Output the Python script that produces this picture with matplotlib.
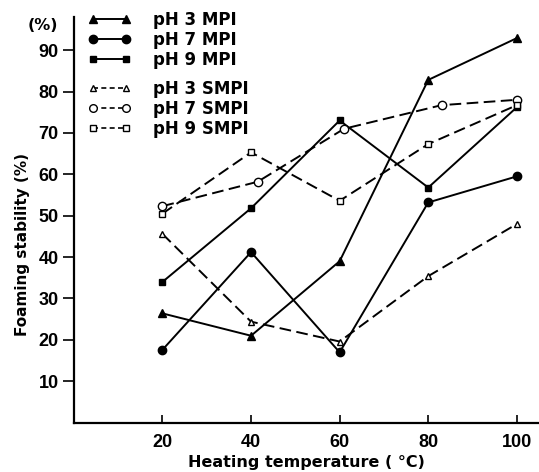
import matplotlib.pyplot as plt
from matplotlib.lines import Line2D

plt.rcParams['font.family'] = ['DejaVu Sans']

# heating temperature (deg C)
temps = [20, 40, 60, 80, 100]
temps_ph7_smpi = [20, 41.5, 61, 83, 100]

# foaming stability (%)
ph3_mpi = [26.4, 21.0, 39.0, 82.8, 92.9]
ph7_mpi = [17.6, 41.2, 17.0, 53.2, 59.5]
ph9_mpi = [34.0, 51.8, 73.0, 56.8, 76.2]
ph3_smpi = [45.6, 24.4, 19.6, 35.4, 48.0]
ph7_smpi = [52.3, 58.2, 71.0, 76.7, 78.0]
ph9_smpi = [50.5, 65.3, 53.6, 67.3, 76.7]

labels_mpi = ['pH 3 MPI', 'pH 7 MPI', 'pH 9 MPI']
labels_smpi = ['pH 3 SMPI', 'pH 7 SMPI', 'pH 9 SMPI']
yticks = [10, 20, 30, 40, 50, 60, 70, 80, 90]

fig = plt.figure(figsize=(5.39, 4.72), dpi=100)
ax = fig.add_axes([0.137, 0.1045, 0.863, 0.8595])

solid = dict(color='black', lw=1.4)
dash = dict(color='black', lw=1.4, ls=(0, (6, 2.8)))
open_m = dict(mfc='white', mec='black', mew=1.0)

ax.plot(temps, ph3_mpi, marker='^', ms=5.5, **solid)
ax.plot(temps, ph7_mpi, marker='o', ms=6, **solid)
ax.plot(temps, ph9_mpi, marker='s', ms=5, **solid)
ax.plot(temps, ph3_smpi, marker='^', ms=4.5, **open_m, **dash)
ax.plot(temps_ph7_smpi, ph7_smpi, marker='o', ms=6, **open_m, **dash)
ax.plot(temps, ph9_smpi, marker='s', ms=5, **open_m, **dash)

ax.set_xlim(0, 105)
ax.set_ylim(0, 98)
ax.set_xticks(temps)
ax.set_yticks(yticks)
ax.tick_params(axis='x', direction='in', length=6, width=1.2, pad=8)
ax.tick_params(axis='y', direction='out', length=8, width=1.2, pad=3)
for lab in ax.get_xticklabels() + ax.get_yticklabels():
    lab.set_fontfamily('Liberation Sans')
    lab.set_fontweight('bold')
    lab.set_fontsize(13)

for s in ['top', 'right']:
    ax.spines[s].set_visible(False)
for s in ['left', 'bottom']:
    ax.spines[s].set_linewidth(1.6)

ax.set_xlabel('Heating temperature ( °C)', fontsize=11.5, fontweight='bold', labelpad=3)
ax.set_ylabel('Foaming stability (%)', fontsize=11, fontweight='bold')
ax.yaxis.set_label_coords(-0.095, 0.438)
fig.text(43 / 539, 1 - 25 / 472, '(%)', fontsize=11.5, fontweight='bold',
         ha='center', va='center')

# legend proxies: short dashes, marker at both ends
leg_solid = dict(color='black', lw=1.4)
leg_dash = dict(color='black', lw=1.2, ls=(0, (3, 2)))
h_mpi = [Line2D([], [], marker='^', ms=5.5, **leg_solid),
         Line2D([], [], marker='o', ms=6, **leg_solid),
         Line2D([], [], marker='s', ms=5, **leg_solid)]
h_smpi = [Line2D([], [], marker='^', ms=4.5, **open_m, **leg_dash),
          Line2D([], [], marker='o', ms=5.5, **open_m, **leg_dash),
          Line2D([], [], marker='s', ms=5, **open_m, **leg_dash)]

leg_kw = dict(frameon=False, prop={'weight': 'bold', 'size': 12},
              numpoints=2, handlelength=2.6, handletextpad=1.3,
              labelspacing=0.12, borderpad=0, borderaxespad=0,
              bbox_transform=fig.transFigure)
leg1 = ax.legend(h_mpi, labels_mpi, loc='upper left',
                 bbox_to_anchor=(88 / 539, 1 - 11 / 472), **leg_kw)
ax.add_artist(leg1)
ax.legend(h_smpi, labels_smpi, loc='upper left',
          bbox_to_anchor=(88 / 539, 1 - 80 / 472), **leg_kw)

fig.savefig('out.png', dpi=100)
